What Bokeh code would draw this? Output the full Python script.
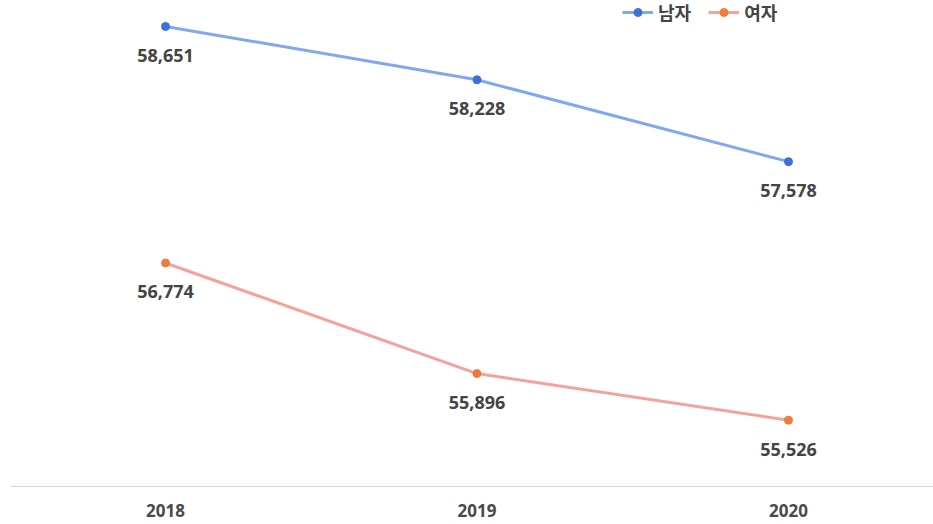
from bokeh.plotting import figure
from bokeh.models import Range1d, FixedTicker, Legend, LegendItem, ColumnDataSource
from bokeh.core.properties import value
from bokeh.embed import file_html
from bokeh.resources import INLINE

years = [2018, 2019, 2020]
year_labels = ["2018", "2019", "2020"]
male = [58651, 58228, 57578]
female = [56774, 55896, 55526]
series_names = ["남자", "여자"]

KFONT = "Noto Sans CJK KR"
NFONT = "Noto Sans"

p = figure(width=933, height=524, output_backend="svg", toolbar_location=None,
           x_range=Range1d(2017.5024, 2020.4655), y_range=Range1d(55000, 58857),
           min_border_left=10, min_border_right=0, min_border_top=0, min_border_bottom=38)
p.outline_line_color = None
p.xgrid.visible = False
p.ygrid.visible = False
p.yaxis.visible = False

p.xaxis.ticker = FixedTicker(ticks=years)
p.xaxis.major_label_overrides = {y: l for y, l in zip(years, year_labels)}
p.xaxis.axis_line_color = "#d6d6d6"
p.xaxis.axis_line_width = 1
p.xaxis.major_tick_line_color = None
p.xaxis.minor_tick_line_color = None
p.xaxis.major_label_text_font = NFONT
p.xaxis.major_label_text_font_size = "17px"
p.xaxis.major_label_text_font_style = "bold"
p.xaxis.major_label_text_color = "#4a4a4a"
p.xaxis.major_label_standoff = 11

colors = [("#7EA8F2", "#3D6FD8"), ("#F5A29C", "#EF7B3D")]
items = []
for name, vals, (lc, dc) in zip(series_names, [male, female], colors):
    src = ColumnDataSource(dict(x=years, y=vals, t=[f"{v:,}" for v in vals]))
    l = p.line("x", "y", source=src, line_color=lc, line_width=3)
    c = p.scatter("x", "y", source=src, size=8, fill_color=dc, line_color=dc)
    p.text("x", "y", text="t", source=src, text_align="center", text_baseline="middle",
           y_offset=29, text_font=value(NFONT), text_font_size="18px",
           text_font_style="bold", text_color="#444444")
    items.append(LegendItem(label=name, renderers=[l, c]))

legend = Legend(items=items, orientation="horizontal", location=(612, 461),
                border_line_alpha=0, background_fill_alpha=0, padding=0, margin=0,
                spacing=17, glyph_width=31, glyph_height=20, label_height=20,
                label_standoff=5, label_text_font=KFONT, label_text_font_size="18px",
                label_text_font_style="bold",
                label_text_color="#444444", label_text_baseline="middle")
p.add_layout(legend, "center")

open("out.html", "w").write(file_html(p, INLINE))
